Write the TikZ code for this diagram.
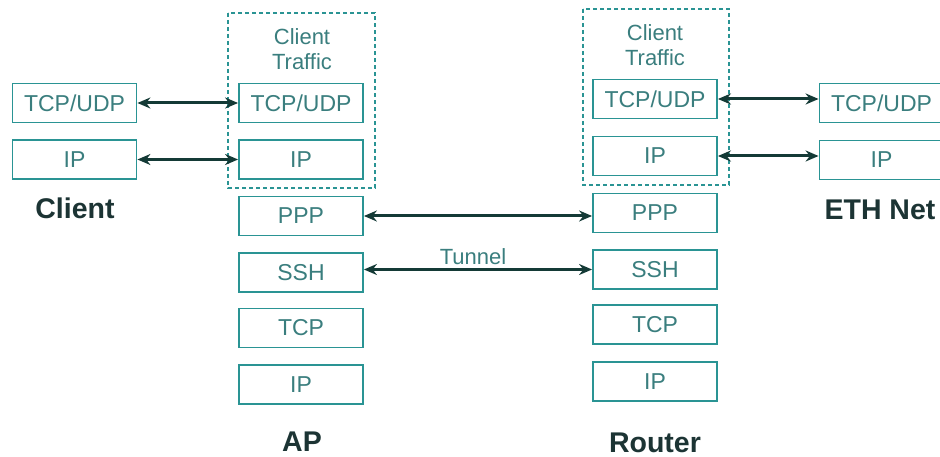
\documentclass[tikz,border=0pt]{standalone}
\usepackage{fontspec}
\setmainfont{Liberation Sans}
\usetikzlibrary{arrows.meta}
\definecolor{boxline}{HTML}{2A9494}
\definecolor{boxtext}{HTML}{3A7E7E}
\definecolor{arrowcol}{HTML}{143A36}
\definecolor{labelcol}{HTML}{1C3434}
\begin{document}
\begin{tikzpicture}[x=1pt,y=-1pt,
  layer/.style={draw=boxline, line width=1.8pt, fill=white, minimum width=124pt,
    minimum height=39pt, inner sep=0pt, text=boxtext,
    font=\fontsize{23}{25}\selectfont},
  group/.style={draw=boxline, line width=1.5pt, dash pattern=on 4pt off 3pt},
  grouptext/.style={text=boxtext, font=\fontsize{22}{25}\selectfont, align=center},
  hostlabel/.style={text=labelcol, font=\fontsize{28.5}{30}\selectfont\bfseries},
  tip/.style={Stealth[length=13pt,width=11pt]},
  link/.style={draw=arrowcol, line width=3pt, {Stealth[length=13pt,width=11pt]}-{Stealth[length=13pt,width=11pt]}}
]
\useasboundingbox (0,0) rectangle (940,457);

% dashed frames around the client traffic layers
\draw[group] (228,13) rectangle (375,188);
\draw[group] (583,9) rectangle (729,185);
\node[grouptext] (aptraffic) at (302,49) {Client\\Traffic};
\node[grouptext] (rttraffic) at (655,45) {Client\\Traffic};

% client stack
\node[layer] (c1) at (74.5,103) {TCP/UDP};
\node[layer] (c2) at (74.5,159.5) {IP};
\node[hostlabel] (clabel) at (75,208) {Client};

% access point stack
\node[layer] (a1) at (301,103) {TCP/UDP};
\node[layer] (a2) at (301,159.5) {IP};
\node[layer] (a3) at (301,216) {PPP};
\node[layer] (a4) at (301,272.5) {SSH};
\node[layer] (a5) at (301,328) {TCP};
\node[layer] (a6) at (301,384.5) {IP};
\node[hostlabel] (alabel) at (302,442) {AP};

% router stack
\node[layer] (r1) at (655,99) {TCP/UDP};
\node[layer] (r2) at (655,156) {IP};
\node[layer] (r3) at (655,213) {PPP};
\node[layer] (r4) at (655,269.5) {SSH};
\node[layer] (r5) at (655,324.5) {TCP};
\node[layer] (r6) at (655,381.5) {IP};
\node[hostlabel] (rlabel) at (655,443) {Router};

% ethernet side stack
\node[layer] (e1) at (881.5,103) {TCP/UDP};
\node[layer] (e2) at (881.5,160) {IP};
\node[hostlabel] (elabel) at (880,210) {ETH Net};

% peer links
\draw[link] (c1.east) -- (c1.east -| a1.west);
\draw[link] (c2.east) -- (c2.east -| a2.west);
\draw[link] (r1.east) -- (r1.east -| e1.west);
\draw[link] (r2.east) -- (r2.east -| e2.west);
\draw[link] (a3.east) -- (a3.east -| r3.west);
\draw[link] (r4.west -| a4.east) -- (r4.west);
\node[text=boxtext, font=\fontsize{22}{24}\selectfont] (tunnel) at (473,257) {Tunnel};
\end{tikzpicture}
\end{document}
